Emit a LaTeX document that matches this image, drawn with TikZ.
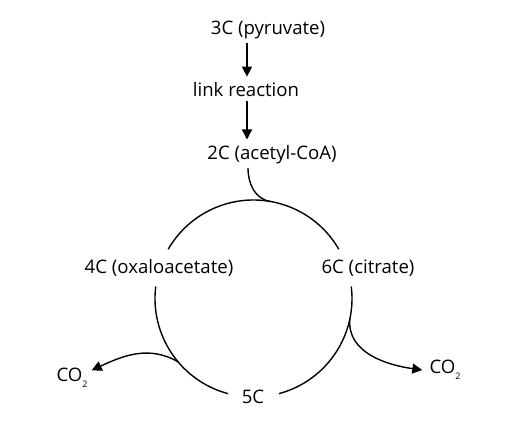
\documentclass[tikz,border=0pt]{standalone}
\usepackage{fontspec}
\setmainfont{Open Sans}
\usetikzlibrary{arrows.meta,calc}
\newcommand{\subtwo}{\raisebox{-5.5pt}{\fontsize{9}{9}\selectfont 2}}
\begin{document}
\begin{tikzpicture}[x=1pt,y=1pt,
  lbl/.style={font=\fontsize{18.6}{20}\selectfont, inner sep=2pt},
  arr/.style={-{Triangle[length=10pt,width=10pt]}, line width=1.4pt},
  ring/.style={line width=1.4pt}]
\useasboundingbox (0,0) rectangle (528,423);
\coordinate (c) at (253.5,124.5);
\node[lbl] (p) at (268,393) {3C (pyruvate)};
\node[lbl] (l) at (246,333) {link reaction};
\node[lbl] (a) at (272,268) {2C (acetyl-CoA)};
\node[lbl] (o) at (159,155) {4C (oxaloacetate)};
\node[lbl] (ci) at (368,155) {6C (citrate)};
\node[lbl] (k) at (253,26) {5C};
\node[lbl] (cl) at (72,45) {CO\subtwo};
\node[lbl] (cr) at (445,53) {CO\subtwo};
\draw[ring] (c) ++(30:98.5) arc[start angle=30,end angle=150,radius=98.5];
\draw[ring] (c) ++(173:98.5) arc[start angle=173,end angle=255,radius=98.5];
\draw[ring] (c) ++(-75:98.5) arc[start angle=-75,end angle=7,radius=98.5];
\coordinate (top) at ($(c)+(80:98.5)$);
\coordinate (sr) at ($(c)+(-12:98.5)$);
\coordinate (sl) at ($(c)+(220:98.5)$);
\coordinate (al) at (248,255);
\draw[arr, shorten <=2pt, shorten >=4pt] (p.south -| 247,0) -- (l.north -| 247,0);
\draw[arr, shorten <=2pt, shorten >=4pt] (l.south -| 247,0) -- (a.north -| 247,0);
\draw[ring] (al) to[out=-90,in=172] (top);
\draw[arr] (sr) to[out=-95,in=172] ($(cr.west)+(-5,0)$);
\draw[arr] (sl) to[out=150,in=25] ($(cl.north east)+(2,-4)$);
\end{tikzpicture}
\end{document}
